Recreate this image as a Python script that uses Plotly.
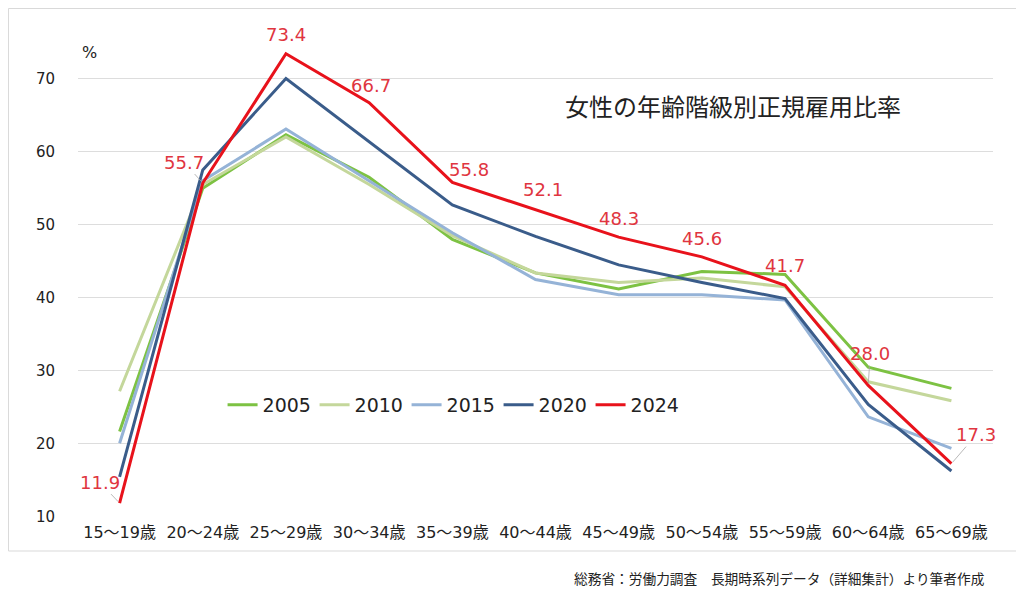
import plotly.graph_objects as go

categories = ["15～19歳", "20～24歳", "25～29歳", "30～34歳", "35～39歳", "40～44歳",
              "45～49歳", "50～54歳", "55～59歳", "60～64歳", "65～69歳"]
y2005 = [21.7, 55.0, 62.3, 56.5, 48.0, 43.4, 41.2, 43.6, 43.2, 30.5, 27.6]
y2010 = [27.2, 55.5, 62.0, 55.5, 48.5, 43.4, 42.1, 42.7, 41.5, 28.5, 25.9]
y2015 = [20.1, 56.0, 63.1, 56.0, 48.9, 42.5, 40.4, 40.4, 39.7, 23.7, 19.4]
y2020 = [15.5, 57.5, 70.0, 61.4, 52.7, 48.4, 44.5, 42.1, 39.9, 25.4, 16.3]
y2024 = [11.9, 55.7, 73.4, 66.7, 55.8, 52.1, 48.3, 45.6, 41.7, 28.0, 17.3]

series = [
    ("2005", y2005, "#7DC243"),
    ("2010", y2010, "#C4D79B"),
    ("2015", y2015, "#95B3D7"),
    ("2020", y2020, "#3A5C8A"),
    ("2024", y2024, "#E8121B"),
]

FONT = "DejaVu Sans, Noto Sans CJK JP"
JP = "Noto Sans CJK JP"
LABEL_COLOR = "#E03540"

fig = go.Figure()
for name, ys, col in series:
    fig.add_trace(go.Scatter(x=categories, y=ys, name=name, mode="lines",
                             line=dict(color=col, width=3)))

# data labels for 2024: (index, xshift, yshift) for plain labels
plain = [(2, 0, 19), (3, 2, 17), (4, 17, 13), (5, 7, 20), (6, 0, 19), (7, 0, 18), (8, 0, 20)]
for i, xs, ys in plain:
    fig.add_annotation(x=categories[i], y=y2024[i], text=f"{y2024[i]:.1f}", showarrow=False,
                       xshift=xs, yshift=ys, font=dict(family=FONT, size=18, color=LABEL_COLOR))
# labels with leader lines: (index, ax, ay)
leaders = [(0, -20, -21), (1, -19, -21), (9, 2, -32), (10, 25, -29)]
for i, ax, ay in leaders:
    fig.add_annotation(x=categories[i], y=y2024[i], text=f"{y2024[i]:.1f}", showarrow=True,
                       arrowhead=0, arrowwidth=0.8, arrowcolor="#A6A6A6", ax=ax, ay=ay,
                       standoff=2, font=dict(family=FONT, size=18, color=LABEL_COLOR))

fig.add_annotation(xref="paper", yref="paper", x=0.002, y=0.977, text="%", showarrow=False,
                   xanchor="left", yanchor="middle", font=dict(family=FONT, size=16, color="#222"))
fig.add_annotation(xref="paper", yref="paper", x=0.716, y=0.867, text="女性の年齢階級別正規雇用比率",
                   showarrow=False, xanchor="center", yanchor="middle",
                   font=dict(family=JP, size=24, color="#222"))
fig.add_annotation(xref="paper", yref="paper", x=0.767, y=-0.128,
                   text="総務省：労働力調査　長期時系列データ（詳細集計）より筆者作成",
                   showarrow=False, xanchor="center", yanchor="middle",
                   font=dict(family=JP, size=13.7, color="#222"))

fig.add_shape(type="rect", xref="paper", yref="paper", x0=-0.0760, x1=1.0262, y0=-0.0716, y1=1.0705,
              line=dict(color="#D9D9D9", width=1), fillcolor="rgba(0,0,0,0)", layer="below")

fig.update_layout(
    width=1024, height=600,
    margin=dict(l=70, r=39, t=34, b=91),
    paper_bgcolor="white", plot_bgcolor="white",
    font=dict(family=FONT, color="#222"),
    showlegend=True,
    legend=dict(orientation="h", x=0.158, y=0.236, xanchor="left", yanchor="middle",
                entrywidth=47, entrywidthmode="pixels",
                font=dict(family=FONT, size=19, color="#222"), bgcolor="rgba(0,0,0,0)"),
    xaxis=dict(type="category", range=[-0.5, 10.5], showgrid=False, showline=False,
               ticks="", tickfont=dict(family=FONT, size=16, color="#222"), ticklabelstandoff=4),
    yaxis=dict(range=[10, 75], tick0=10, dtick=10, showgrid=True, gridcolor="#DDDDDD",
               gridwidth=1, zeroline=False, showline=False, ticks="",
               tickfont=dict(family=FONT, size=15, color="#222"), ticklabelstandoff=22),
)

fig.write_html("out.html")
